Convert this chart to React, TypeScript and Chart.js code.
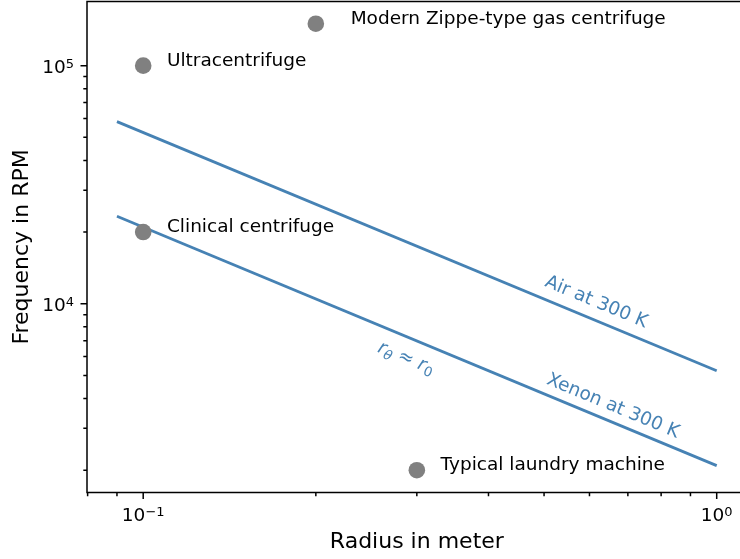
import React, { useEffect, useRef } from 'react';
import { Chart, registerables } from 'chart.js';

Chart.register(...registerables);

// ---- data ----
const pointNames = ['Ultracentrifuge', 'Modern Zippe-type gas centrifuge', 'Clinical centrifuge', 'Typical laundry machine'];
const pointRadius = [0.1, 0.2, 0.1, 0.3];
const pointRPM = [100000, 150000, 20000, 2000];
const nameRadius = [0.11, 0.23, 0.11, 0.33];

const lineRadius = [0.09, 1.0];
const airRPM = [58200, 5230];
const xenonRPM = [23300, 2090];

const xMajorTicks = [0.1, 1];
const xTickLabels = [['10', '−1'], ['10', '0']];
const xMinorTicks = [0.08, 0.09, 0.2, 0.3, 0.4, 0.5, 0.6, 0.7, 0.8, 0.9];
const yMajorTicks = [10000, 100000];
const yTickLabels = [['10', '4'], ['10', '5']];
const yMinorTicks = [2000, 3000, 4000, 5000, 6000, 7000, 8000, 9000, 20000, 30000, 40000, 50000, 60000, 70000, 80000, 90000];

const xLimits = [0.0798, 1.128];
const yLimits = [1612, 186100];

const airLabel = { text: 'Air at 300 K', r: 0.618, f: 10300 };
const xenonLabel = { text: 'Xenon at 300 K', r: 0.661, f: 3770 };
const ratioLabel = { r: 0.288, f: 5990 };

const BLUE = '#4682b4';
const FONT = '"DejaVu Sans", sans-serif';
const BASE_FONT = '18.5px ' + FONT;
const SUP_FONT = '13px ' + FONT;

function makeTicks(minor: number[], major: number[]) {
  return [...minor, ...major].sort((a, b) => a - b).map((v) => ({ value: v, major: major.includes(v) }));
}

type Part = { t: string; font: string; dy?: number };

function partsWidth(ctx: CanvasRenderingContext2D, parts: Part[]) {
  let total = 0;
  for (const p of parts) {
    ctx.font = p.font;
    total += ctx.measureText(p.t).width;
  }
  return total;
}

function drawRun(ctx: CanvasRenderingContext2D, parts: Part[], x0: number, base: number) {
  let xx = x0;
  for (const p of parts) {
    ctx.font = p.font;
    ctx.fillText(p.t, xx, base + (p.dy || 0));
    xx += ctx.measureText(p.t).width;
  }
}

function drawParts(ctx: CanvasRenderingContext2D, parts: Part[], cx: number, cy: number, angle: number, color: string) {
  ctx.save();
  ctx.translate(cx, cy);
  ctx.rotate(angle);
  const total = partsWidth(ctx, parts);
  ctx.fillStyle = color;
  ctx.textBaseline = 'alphabetic';
  ctx.textAlign = 'left';
  drawRun(ctx, parts, -total / 2, 6.6);
  ctx.restore();
}

function powerParts(lbl: string[]): Part[] {
  return [
    { t: lbl[0], font: BASE_FONT },
    { t: lbl[1], font: SUP_FONT, dy: -5.1 },
  ];
}

const decor = {
  id: 'decor',
  afterDatasetsDraw(chart: any) {
    const { ctx, chartArea: a, scales } = chart;
    const x = scales.x;
    const y = scales.y;
    ctx.save();
    // spines (the right one lies outside the visible page)
    ctx.strokeStyle = '#000';
    ctx.lineWidth = 1.5;
    ctx.beginPath();
    ctx.moveTo(a.right, a.top);
    ctx.lineTo(a.left, a.top);
    ctx.lineTo(a.left, a.bottom);
    ctx.lineTo(a.right, a.bottom);
    ctx.stroke();
    // tick marks + labels
    ctx.beginPath();
    for (const t of x.ticks) {
      const px = x.getPixelForValue(t.value);
      const len = t.major ? 6.5 : 3.7;
      ctx.moveTo(px, a.bottom);
      ctx.lineTo(px, a.bottom + len);
    }
    for (const t of y.ticks) {
      const py = y.getPixelForValue(t.value);
      const len = t.major ? 6.5 : 3.7;
      ctx.moveTo(a.left, py);
      ctx.lineTo(a.left - len, py);
    }
    ctx.stroke();

    ctx.fillStyle = '#000';
    ctx.textBaseline = 'alphabetic';
    ctx.textAlign = 'left';
    for (const t of x.ticks) {
      const i = xMajorTicks.indexOf(t.value);
      if (i < 0) continue;
      const parts = powerParts(xTickLabels[i]);
      const w = partsWidth(ctx, parts);
      drawRun(ctx, parts, x.getPixelForValue(t.value) - w / 2, a.bottom + 28.2);
    }
    for (const t of y.ticks) {
      const i = yMajorTicks.indexOf(t.value);
      if (i < 0) continue;
      const parts = powerParts(yTickLabels[i]);
      const w = partsWidth(ctx, parts);
      drawRun(ctx, parts, a.left - 13 - w, y.getPixelForValue(t.value) + 7.6);
    }

    // point names
    ctx.font = BASE_FONT;
    pointNames.forEach((n, i) => {
      ctx.fillText(n, x.getPixelForValue(nameRadius[i]), y.getPixelForValue(pointRPM[i]));
    });

    // line angle from the line data through the scales
    const x0 = x.getPixelForValue(lineRadius[0]);
    const x1 = x.getPixelForValue(lineRadius[1]);
    const y0 = y.getPixelForValue(airRPM[0]);
    const y1 = y.getPixelForValue(airRPM[1]);
    const ang = Math.atan2(y1 - y0, x1 - x0);

    const italic = 'italic 18.5px ' + FONT;
    const subI = 'italic 13.5px ' + FONT;
    const sub = '13.5px ' + FONT;

    drawParts(ctx, [{ t: airLabel.text, font: BASE_FONT }], x.getPixelForValue(airLabel.r), y.getPixelForValue(airLabel.f), ang, BLUE);
    drawParts(ctx, [{ t: xenonLabel.text, font: BASE_FONT }], x.getPixelForValue(xenonLabel.r), y.getPixelForValue(xenonLabel.f), ang, BLUE);
    drawParts(
      ctx,
      [
        { t: 'r', font: italic },
        { t: 'θ', font: subI, dy: 3.7 },
        { t: ' ≈ ', font: BASE_FONT },
        { t: 'r', font: italic },
        { t: '0', font: sub, dy: 3.7 },
      ],
      x.getPixelForValue(ratioLabel.r),
      y.getPixelForValue(ratioLabel.f),
      ang,
      BLUE
    );
    ctx.restore();
  },
};

function zeroPad(s: any) {
  s.paddingTop = 0;
  s.paddingBottom = 0;
  s.paddingLeft = 0;
  s.paddingRight = 0;
}

export default function App() {
  const ref = useRef<HTMLCanvasElement | null>(null);
  useEffect(() => {
    if (!ref.current) return;
    const chart = new Chart(ref.current, {
      type: 'scatter',
      data: {
        datasets: [
          {
            label: 'devices',
            data: pointRadius.map((r, i) => ({ x: r, y: pointRPM[i] })),
            backgroundColor: '#808080',
            borderColor: '#808080',
            borderWidth: 0,
            pointRadius: 8.3,
            showLine: false,
          },
          {
            label: 'air',
            data: lineRadius.map((r, i) => ({ x: r, y: airRPM[i] })),
            showLine: true,
            borderColor: BLUE,
            borderWidth: 2.8,
            pointRadius: 0,
            fill: false,
          },
          {
            label: 'xenon',
            data: lineRadius.map((r, i) => ({ x: r, y: xenonRPM[i] })),
            showLine: true,
            borderColor: BLUE,
            borderWidth: 2.8,
            pointRadius: 0,
            fill: false,
          },
        ],
      },
      options: {
        animation: false,
        responsive: false,
        maintainAspectRatio: false,
        layout: { autoPadding: false, padding: { top: 1.4, right: 1.3, left: 0, bottom: 0 } },
        plugins: { legend: { display: false }, tooltip: { enabled: false } },
        scales: {
          x: {
            type: 'logarithmic',
            min: xLimits[0],
            max: xLimits[1],
            bounds: 'data',
            border: { display: false },
            grid: { display: false, drawTicks: false },
            afterBuildTicks: (s: any) => {
              s.ticks = makeTicks(xMinorTicks, xMajorTicks);
            },
            afterFit: (s: any) => {
              s.height = 66.5;
              zeroPad(s);
            },
            ticks: { display: false, autoSkip: false },
            title: {
              display: true,
              text: 'Radius in meter',
              color: '#000',
              font: { family: FONT, size: 22 },
              padding: { top: 0, bottom: 3.6 },
            },
          },
          y: {
            type: 'logarithmic',
            min: yLimits[0],
            max: yLimits[1],
            bounds: 'data',
            border: { display: false },
            grid: { display: false, drawTicks: false },
            afterBuildTicks: (s: any) => {
              s.ticks = makeTicks(yMinorTicks, yMajorTicks);
            },
            afterFit: (s: any) => {
              s.width = 87;
              zeroPad(s);
            },
            ticks: { display: false, autoSkip: false },
            title: {
              display: true,
              text: 'Frequency in RPM',
              color: '#000',
              font: { family: FONT, size: 22 },
              padding: { top: 8.8, bottom: 0 },
            },
          },
        },
      },
      plugins: [decor],
    } as any);
    return () => chart.destroy();
  }, []);
  return (
    <div style={{ position: 'absolute', left: 0, top: 0, width: 740, height: 559, overflow: 'hidden', background: '#fff' }}>
      <canvas ref={ref} width={748} height={559} style={{ display: 'block', width: 748, height: 559 }} />
    </div>
  );
}
